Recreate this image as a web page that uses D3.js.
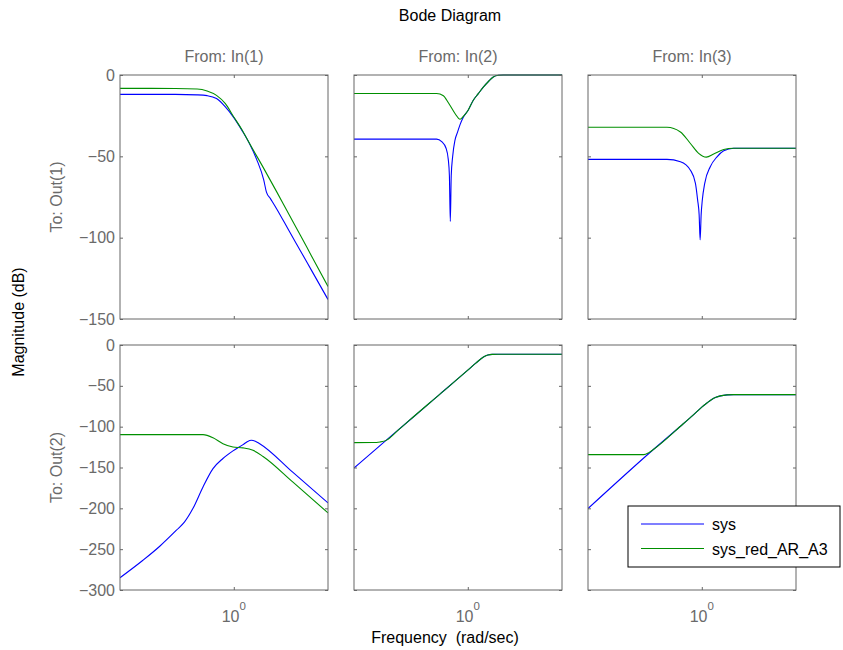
<!DOCTYPE html>
<html>
<head>
<meta charset="utf-8">
<script src="https://cdn.jsdelivr.net/npm/d3@7"></script>
<style>
body { margin: 0; background: #fff; }
svg { font-family: "Liberation Sans", Arial, Helvetica, sans-serif; }
</style>
</head>
<body>
<div id="chart"></div>
<script>
// Bode magnitude plot, 2 outputs x 3 inputs: full model vs reduced model

const inputNames = ["In(1)", "In(2)", "In(3)"];
const outputNames = ["Out(1)", "Out(2)"];
const seriesNames = ["sys", "sys_red_AR_A3"];
const yTicksRow1 = [0, -50, -100, -150];
const yTicksRow2 = [0, -50, -100, -150, -200, -250, -300];
const freqRange = [0.5, 1.775];
const xTickValues = [1];

// Out(1) <- In(1)
const w11Sys = [0.5, 0.7, 0.8, 0.85, 0.9, 0.95, 1.0, 1.05, 1.1, 1.15, 1.2, 1.22, 1.25, 1.3, 1.4, 1.5, 1.6, 1.775];
const db11Sys = [-11.9, -11.9, -12.2, -12.7, -14.5, -19.6, -26.2, -33.9, -42.1, -52, -64.5, -72, -76, -82.5, -95.8, -108, -119.5, -138];
const w11Red = [0.5, 0.7, 0.8, 0.85, 0.9, 0.95, 1.0, 1.05, 1.1, 1.2, 1.3, 1.4, 1.5, 1.6, 1.775];
const db11Red = [-8.2, -8.3, -8.6, -9.8, -12.5, -17.6, -25.8, -33.5, -42, -57.4, -72, -85.8, -98.5, -110.6, -130];

// Out(1) <- In(2)
const w12Sys = [0.5, 0.827, 0.853, 0.876, 0.888, 0.894, 0.899, 0.904, 0.912, 0.925, 0.94, 0.954, 0.973, 1.003, 1.034, 1.066, 1.099, 1.134, 1.168, 1.204, 1.242, 1.775];
const db12Sys = [-39.4, -39.4, -41, -45, -52, -62, -90, -62, -50, -40, -35, -30.5, -26, -21.5, -15.5, -11.5, -7.5, -4, -1.2, -0.2, 0, 0];
const w12Red = [0.5, 0.827, 0.862, 0.88, 0.897, 0.925, 0.954, 0.973, 1.003, 1.034, 1.066, 1.099, 1.134, 1.168, 1.204, 1.242, 1.775];
const db12Red = [-11.4, -11.4, -12.8, -15.5, -18.6, -23.7, -27.2, -25.5, -21.5, -15.5, -11.5, -7.5, -4, -1.2, -0.2, 0, 0];

// Out(1) <- In(3)
const w13Sys = [0.5, 0.809, 0.878, 0.933, 0.962, 0.975, 0.984, 0.99, 0.996, 1.003, 1.018, 1.053, 1.097, 1.143, 1.214, 1.775];
const db13Sys = [-51.9, -51.9, -53.3, -58.5, -66.6, -76.9, -86, -101.4, -86, -77, -66.6, -56.4, -50.3, -46.6, -45, -45];
const w13Red = [0.5, 0.809, 0.878, 0.933, 0.981, 1.028, 1.075, 1.143, 1.214, 1.775];
const db13Red = [-32.1, -32.1, -35, -42.1, -48.2, -50.5, -48.6, -45.8, -45, -45];

// Out(2) <- In(1)
const w21Sys = [0.5, 0.575, 0.637, 0.705, 0.741, 0.78, 0.829, 0.881, 0.936, 0.995, 1.058, 1.085, 1.113, 1.14, 1.171, 1.434, 1.775];
const db21Sys = [-285, -263.6, -246.4, -226.8, -216.6, -200, -173.8, -151.4, -139, -129.7, -122, -118.5, -116.7, -117.8, -120.8, -156, -193.4];
const w21Red = [0.5, 0.829, 0.881, 0.936, 0.995, 1.058, 1.124, 1.195, 1.434, 1.775];
const db21Red = [-109.8, -109.8, -113.5, -120.8, -124.9, -126, -129, -136.5, -168, -205.6];

// Out(2) <- In(2)
const w22Sys = [0.5, 0.623, 0.844, 1.0, 1.05, 1.1, 1.13, 1.16, 1.2, 1.775];
const db22Sys = [-150.6, -112.6, -60.1, -30.8, -22.2, -14.8, -12.3, -11.5, -11.4, -11.4];
const w22Red = [0.5, 0.56, 0.586, 0.61, 0.623, 0.65, 0.7, 0.844, 1.0, 1.05, 1.1, 1.13, 1.16, 1.2, 1.775];
const db22Red = [-119.5, -119.4, -118.7, -116.5, -113.5, -105.5, -92.4, -60.1, -30.8, -22.2, -14.8, -12.3, -11.5, -11.4, -11.4];

// Out(2) <- In(3)
const w23Sys = [0.5, 0.746, 0.878, 0.95, 1.0, 1.032, 1.06, 1.09, 1.12, 1.166, 1.214, 1.775];
const db23Sys = [-200.3, -127.7, -99.5, -85.5, -76, -71, -67, -64, -62.3, -61.1, -60.8, -60.8];
const w23Red = [0.5, 0.702, 0.724, 0.746, 0.878, 0.95, 1.0, 1.032, 1.06, 1.09, 1.12, 1.166, 1.214, 1.775];
const db23Red = [-134.2, -134.2, -131.8, -127.7, -99.5, -85.5, -76, -71, -67, -64, -62.3, -61.1, -60.8, -60.8];

const panelCurves = [
    [[w11Sys, db11Sys, w11Red, db11Red], [w12Sys, db12Sys, w12Red, db12Red], [w13Sys, db13Sys, w13Red, db13Red]],
    [[w21Sys, db21Sys, w21Red, db21Red], [w22Sys, db22Sys, w22Red, db22Red], [w23Sys, db23Sys, w23Red, db23Red]]
];

// Layout
const width = 843, height = 650;
const colX = [120, 354, 588];
const panelW = 208;
const rowY = [75, 345];
const rowH = [244, 245];
const rowTicks = [yTicksRow1, yTicksRow2];
const seriesColors = ["#0000ff", "#008f00"];
const axisGray = "#666666";
const textGray = "#6a6a6a";
const tickLen = 3;

const svg = d3.select("#chart").append("svg")
    .attr("width", width)
    .attr("height", height);

svg.append("rect").attr("width", width).attr("height", height).attr("fill", "#fff");

const fmt = d => d < 0 ? "\u2212" + Math.abs(d) : String(d);

const xScale = d3.scaleLog().domain(freqRange).range([0, panelW]);

for (let r = 0; r < 2; r++) {
    const ticks = rowTicks[r];
    const yScale = d3.scaleLinear()
                     .domain([d3.min(ticks), d3.max(ticks)])
                     .range([rowH[r], 0]);

    for (let c = 0; c < 3; c++) {
        const g = svg.append("g")
            .attr("transform", "translate(" + colX[c] + "," + rowY[r] + ")");

        const clipId = "clip-" + r + "-" + c;
        g.append("clipPath").attr("id", clipId)
         .append("rect").attr("x", 0).attr("y", -1).attr("width", panelW).attr("height", rowH[r] + 1);

        // Curves: sys then reduced model on top
        const curves = panelCurves[r][c];
        const line = d3.line()
            .x(d => xScale(d[0]))
            .y(d => yScale(d[1]))
            .curve(d3.curveMonotoneX);
        for (let s = 0; s < 2; s++) {
            const w = curves[2 * s], db = curves[2 * s + 1];
            g.append("path")
             .datum(w.map((v, i) => [v, db[i]]))
             .attr("clip-path", "url(#" + clipId + ")")
             .attr("fill", "none")
             .attr("stroke", seriesColors[s])
             .attr("stroke-width", 1.1)
             .attr("d", line);
        }

        // Inward ticks on all four sides
        const left = g.append("g").call(d3.axisLeft(yScale).tickValues(ticks).tickSize(-tickLen).tickPadding(5).tickFormat(c === 0 ? fmt : ""));
        const right = g.append("g").attr("transform", "translate(" + panelW + ",0)")
                       .call(d3.axisRight(yScale).tickValues(ticks).tickSize(-tickLen).tickFormat(""));
        const top = g.append("g").call(d3.axisTop(xScale).tickValues(xTickValues).tickSize(-tickLen).tickFormat(""));
        const bottom = g.append("g").attr("transform", "translate(0," + rowH[r] + ")")
                        .call(d3.axisBottom(xScale).tickValues(xTickValues).tickSize(-tickLen).tickFormat(""));
        [left, right, top, bottom].forEach(a => {
            a.select(".domain").remove();
            a.selectAll("line").attr("stroke", axisGray);
            a.selectAll("text")
             .attr("fill", textGray)
             .style("font-size", "16px")
             .style("font-family", "Liberation Sans, Arial, sans-serif");
        });

        // Box
        g.append("rect")
         .attr("width", panelW).attr("height", rowH[r])
         .attr("fill", "none").attr("stroke", axisGray).attr("stroke-width", 1);

        // 10^0 label under the bottom row
        if (r === 1) {
            const t = g.append("text")
                .attr("x", xScale(1))
                .attr("y", rowH[r] + 32)
                .attr("text-anchor", "middle")
                .attr("fill", textGray)
                .style("font-size", "16px");
            t.append("tspan").text("10");
            t.append("tspan").attr("dy", -12).style("font-size", "11.5px").text("0");
        }

        // Column titles
        if (r === 0) {
            svg.append("text")
               .attr("x", colX[c] + panelW / 2)
               .attr("y", 62)
               .attr("text-anchor", "middle")
               .attr("fill", textGray)
               .style("font-size", "16px")
               .text("From: " + inputNames[c]);
        }
    }

    // Row titles
    svg.append("text")
       .attr("transform", "translate(62," + (rowY[r] + rowH[r] / 2) + ") rotate(-90)")
       .attr("text-anchor", "middle")
       .attr("fill", textGray)
       .style("font-size", "16px")
       .text("To: " + outputNames[r]);
}

// Title and axis labels
svg.append("text")
   .attr("x", 450).attr("y", 21)
   .attr("text-anchor", "middle")
   .attr("fill", "#000")
   .style("font-size", "16px")
   .text("Bode Diagram");

svg.append("text")
   .attr("transform", "translate(24,322) rotate(-90)")
   .attr("text-anchor", "middle")
   .attr("fill", "#000")
   .style("font-size", "16px")
   .text("Magnitude (dB)");

svg.append("text")
   .attr("x", 445).attr("y", 643)
   .attr("text-anchor", "middle")
   .attr("fill", "#000")
   .style("font-size", "16px")
   .style("white-space", "pre")
   .attr("xml:space", "preserve")
   .text("Frequency  (rad/sec)");

// Legend
const legend = svg.append("g").attr("transform", "translate(628,506)");
legend.append("rect")
      .attr("width", 212).attr("height", 61)
      .attr("fill", "#fff").attr("stroke", "#000").attr("stroke-width", 1);
seriesNames.forEach((name, i) => {
    const y = 18 + i * 24.5;
    legend.append("line")
          .attr("x1", 13).attr("x2", 76)
          .attr("y1", y).attr("y2", y)
          .attr("stroke", seriesColors[i]).attr("stroke-width", 1.1);
    legend.append("text")
          .attr("x", 84).attr("y", y + 6)
          .attr("fill", "#000")
          .style("font-size", "16px")
          .text(name);
});
</script>
</body>
</html>
